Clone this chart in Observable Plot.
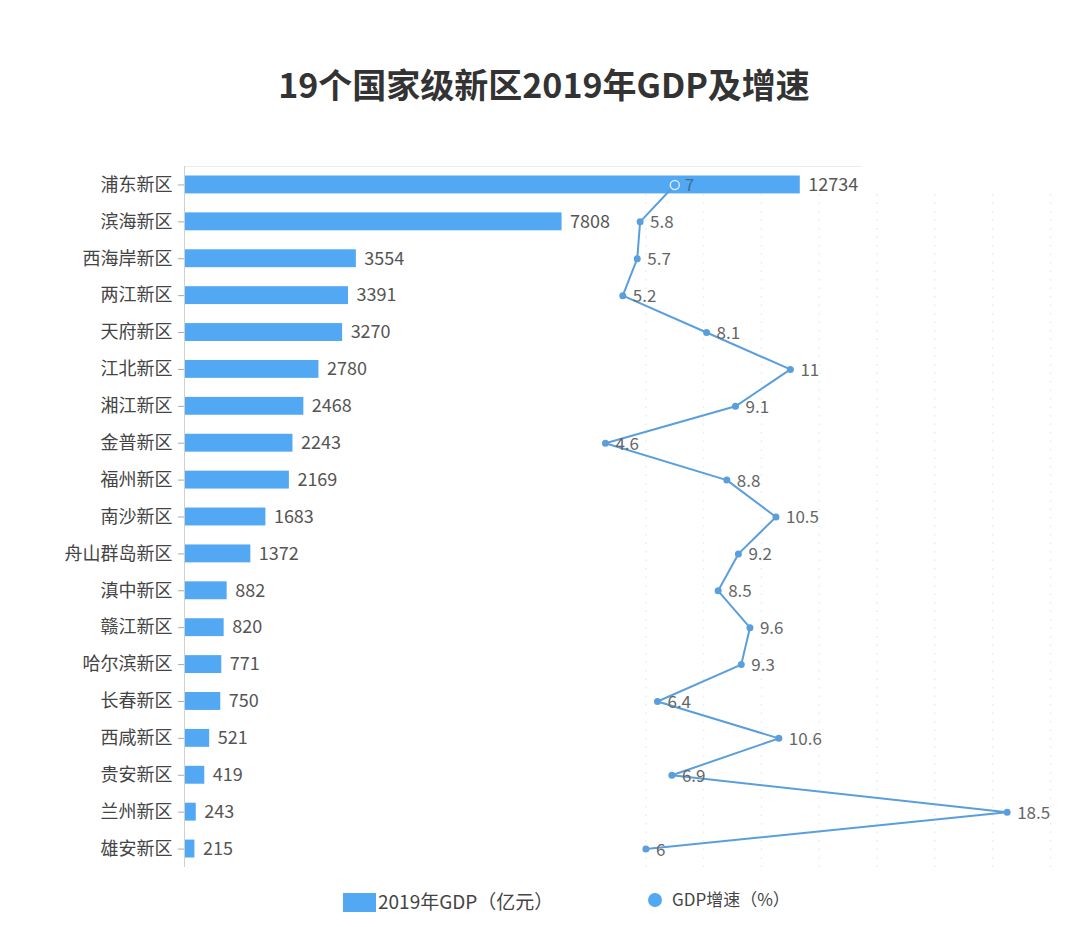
<!DOCTYPE html>
<html>
<head>
<meta charset="utf-8">
<script src="https://cdn.jsdelivr.net/npm/d3@7"></script>
<script src="https://cdn.jsdelivr.net/npm/@observablehq/plot@0.6"></script>
<style>
  html, body { margin: 0; padding: 0; background: #fff; }
  body { font-family: "Noto Sans CJK SC", "Noto Sans", sans-serif; }
  #wrap { position: relative; width: 1080px; height: 927px; overflow: hidden; }
  #wrap svg { position: absolute; left: 0; top: 0; background: transparent; }
  #title { position: absolute; left: 0; width: 1088px; top: 59px; text-align: center;
           font-size: 34px; font-weight: bold; color: #333; }
  .leg { position: absolute; color: #444; white-space: nowrap; }
</style>
</head>
<body>
<div id="wrap">
  <div id="title">19个国家级新区2019年GDP及增速</div>
</div>
<script>
const names = ["浦东新区","滨海新区","西海岸新区","两江新区","天府新区","江北新区","湘江新区","金普新区","福州新区","南沙新区","舟山群岛新区","滇中新区","赣江新区","哈尔滨新区","长春新区","西咸新区","贵安新区","兰州新区","雄安新区"];
const gdp = [12734,7808,3554,3391,3270,2780,2468,2243,2169,1683,1372,882,820,771,750,521,419,243,215];
const growth = [7,5.8,5.7,5.2,8.1,11,9.1,4.6,8.8,10.5,9.2,8.5,9.6,9.3,6.4,10.6,6.9,18.5,6];
const gridTicks = [6,8,10,12,14,16,18,20];

const rows = names.map((n, i) => ({name: n, gdp: gdp[i], growth: growth[i], first: i === 0}));

const W = 1080, H = 880, MT = 166, MB = 13;
const font = "Noto Sans CJK SC";
const barColor = "#52a8f2";
const lineColor = "#5a9fdc";

const yScale = () => ({type: "band", domain: names, padding: 0, round: false, axis: null});

// Layer 1: dotted grid for growth scale
const gridPlot = Plot.plot({
  width: W, height: H,
  marginTop: MT + 28, marginBottom: MB, marginLeft: 472, marginRight: 30,
  x: {domain: [0, 20], axis: null},
  y: yScale(),
  style: {fontFamily: font, background: "transparent"},
  marks: [
    Plot.ruleX(gridTicks, {stroke: "#e6e6e6", strokeWidth: 1.2, strokeDasharray: "1.5,7"})
  ]
});

// Layer 2: bars for GDP
const barPlot = Plot.plot({
  width: W, height: H,
  marginTop: MT, marginBottom: MB, marginLeft: 184, marginRight: 219,
  x: {domain: [0, 14000], axis: null},
  y: yScale(),
  style: {fontFamily: font, background: "transparent"},
  marks: [
    Plot.frame({anchor: "top", stroke: "#ececec"}),
    Plot.barX(rows, {x: "gdp", y: "name", fill: barColor, insetTop: 9.5, insetBottom: 9.5}),
    Plot.text(rows, {x: "gdp", y: "name", text: d => String(d.gdp), textAnchor: "start", dx: 8,
      fill: "#555", fontSize: 18}),
    Plot.axisY({label: null, tickSize: 6, tickPadding: 6, fontSize: 18, color: "#444", stroke: "#aaa", tickFormat: d => d}),
    Plot.ruleX([0], {stroke: "#d0d0d0"})
  ]
});

// Layer 3: growth line
const linePlot = Plot.plot({
  width: W, height: H,
  marginTop: MT, marginBottom: MB, marginLeft: 472, marginRight: 30,
  x: {domain: [0, 20], axis: null},
  y: yScale(),
  style: {fontFamily: font, background: "transparent"},
  marks: [
    Plot.line(rows, {x: "growth", y: "name", stroke: lineColor, strokeWidth: 2}),
    Plot.dot(rows.filter(d => !d.first), {x: "growth", y: "name", r: 3.5, fill: lineColor}),
    Plot.dot(rows.filter(d => d.first), {x: "growth", y: "name", r: 4.5, fill: barColor, stroke: "#d4e9fb", strokeWidth: 1.5}),
    Plot.text(rows, {x: "growth", y: "name", text: d => String(d.growth), textAnchor: "start", dx: 10, dy: 1,
      fill: d => d.first ? "#3d6f99" : "#666", fontSize: 17, fontWeight: d => d.first ? "bold" : "normal"})
  ]
});

const wrap = document.getElementById("wrap");
wrap.appendChild(gridPlot);
wrap.appendChild(barPlot);
wrap.appendChild(linePlot);

// Legend
const leg1 = document.createElement("div");
leg1.className = "leg";
leg1.style.left = "343px"; leg1.style.top = "887px";
leg1.innerHTML = '<span style="display:inline-block;width:33px;height:19px;background:' + barColor + ';vertical-align:-3px"></span><span style="font-size:19px;margin-left:2px">2019年GDP（亿元）</span>';
wrap.appendChild(leg1);

const leg2 = document.createElement("div");
leg2.className = "leg";
leg2.style.left = "648px"; leg2.style.top = "886px";
leg2.innerHTML = '<span style="display:inline-block;width:14px;height:14px;border-radius:7px;background:' + barColor + ';vertical-align:-1px"></span><span style="font-size:17px;margin-left:10px">GDP增速（%）</span>';
wrap.appendChild(leg2);
</script>
</body>
</html>
